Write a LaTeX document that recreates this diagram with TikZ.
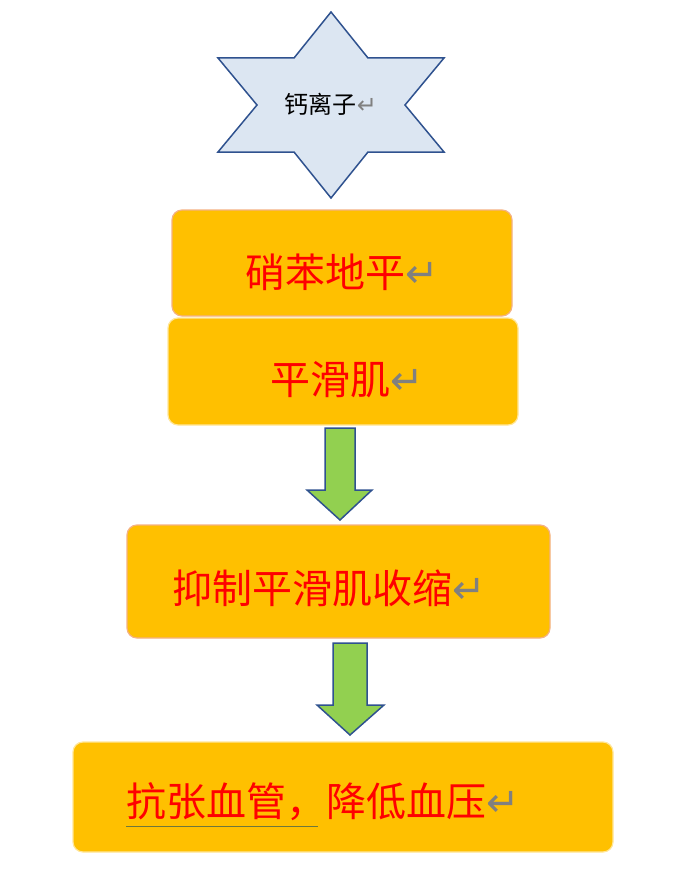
\documentclass[tikz,border=0pt]{standalone}
\usepackage{fontspec}
\setmainfont{Noto Sans CJK SC}
\newfontfamily\dvs{DejaVu Sans}
\definecolor{org}{RGB}{255,192,0}
\definecolor{bd1}{RGB}{244,177,131}
\definecolor{bd2}{RGB}{255,230,153}
\definecolor{stfill}{RGB}{220,230,242}
\definecolor{stbd}{RGB}{47,82,143}
\definecolor{grn}{RGB}{146,208,80}
\newcommand{\ret}{{\dvs\color{gray}↵}}
\begin{document}
\begin{tikzpicture}[x=1pt,y=-1pt,
  box/.style={draw=bd1,line width=1.2pt,fill=org,rounded corners=10pt},
  lbl/.style={text=red,font=\fontsize{40}{44}\selectfont,anchor=west,inner sep=0},
  garrow/.style={draw=stbd,line width=1.5pt,fill=grn}]
\useasboundingbox (0,0) rectangle (677,872);
% star
\draw[draw=stbd,line width=1.5pt,fill=stfill]
 (331,12) -- (368,58) -- (444,58) -- (405,105) -- (444,152) -- (368,152) -- (331,198)
 -- (294,152) -- (218,152) -- (257,105) -- (218,58) -- (294,58) -- cycle;
\node[inner sep=0,font=\fontsize{24}{26}\selectfont] (star) at (331,104) {钙离子\ret};
% boxes
\draw[box] (172,210) rectangle (512,316);
\node[lbl] (t1) at (245,272) {硝苯地平\ret};
\draw[box,draw=bd2] (168,318) rectangle (518,425);
\node[lbl] (t2) at (270,380) {平滑肌\ret};
\draw[box] (127,525) rectangle (550,638);
\node[lbl] (t3) at (172,588) {抑制平滑肌收缩\ret};
\draw[box,draw=bd2] (73,742) rectangle (613,852);
\node[lbl] (t4) at (126,802) {抗张血管，降低血压\ret};
\draw[draw={rgb,255:red,110;green,120;blue,60},line width=1pt] (126,826) -- (318,826);
% arrows
\draw[garrow] (325,428) -- (355,428) -- (355,490) -- (372,490) -- (340,520) -- (307,490) -- (325,490) -- cycle;
\draw[garrow] (333,643) -- (367,643) -- (367,705) -- (384,705) -- (350,735) -- (317,705) -- (333,705) -- cycle;
\end{tikzpicture}
\end{document}
